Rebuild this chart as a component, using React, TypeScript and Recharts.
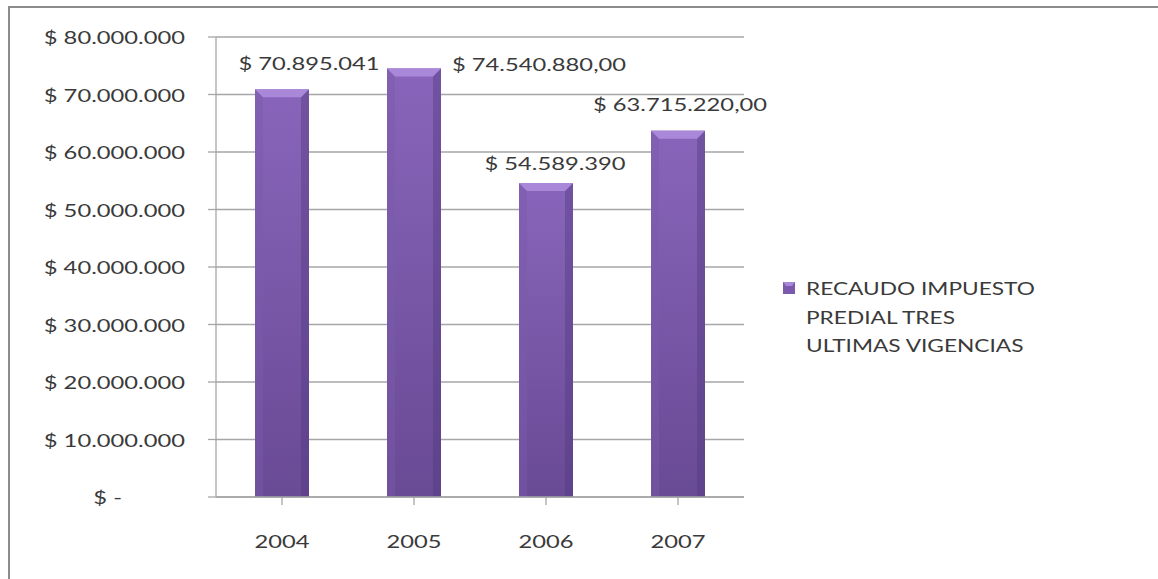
import { BarChart, Bar, XAxis, YAxis, CartesianGrid, Legend, LabelList } from "recharts";

const years = ["2004", "2005", "2006", "2007"];
const recaudo = [70895041, 74540880, 54589390, 63715220];
const labelDecimals = [0, 2, 0, 2];
const yTicks = [0, 10000000, 20000000, 30000000, 40000000, 50000000, 60000000, 70000000, 80000000];
const legendLines = ["RECAUDO IMPUESTO", "PREDIAL TRES", "ULTIMAS VIGENCIAS"];
const seriesName = legendLines.join(" ");

const data = years.map((year, i) => ({ year, value: recaudo[i], decimals: labelDecimals[i] }));

// where Excel dropped each data label, relative to bar centre / top
const labelNudge = [
  { dx: 27, dy: -19 },
  { dx: 125, dy: 3 },
  { dx: 9, dy: -13 },
  { dx: 2, dy: -20 },
];

const FONT = "Lato, 'Open Sans', sans-serif";
const STRETCH = 1.32;
const LEGEND_STRETCH = 1.26;
const TEXT = "#3a3a3a";
const GRID = "#a6a6a6";

function pesos(v: number, decimals = 0) {
  if (v === 0) return "$ -";
  const int = Math.floor(v).toString().replace(/\B(?=(\d{3})+(?!\d))/g, ".");
  return "$ " + int + (decimals > 0 ? "," + "0".repeat(decimals) : "");
}

function StretchText({ x, y, anchor, baseline, children, size = 18 }: any) {
  return (
    <g transform={`translate(${x},${y}) scale(${STRETCH},1)`}>
      <text x={0} y={0} textAnchor={anchor} dominantBaseline={baseline} fontFamily={FONT} fontSize={size} fill={TEXT}>
        {children}
      </text>
    </g>
  );
}

function YTick({ x, y, payload }: any) {
  const zero = payload.value === 0;
  return (
    <StretchText x={x - (zero ? 63 : 0)} y={y} anchor="end" baseline="central">
      {pesos(payload.value)}
    </StretchText>
  );
}

function XTick({ x, y, payload }: any) {
  return (
    <StretchText x={x} y={y + 6} anchor="middle" baseline="central">
      {payload.value}
    </StretchText>
  );
}

function BarLabel({ x, y, width, index, value }: any) {
  const n = labelNudge[index] || { dx: 0, dy: -8 };
  return (
    <StretchText x={x + width / 2 + n.dx} y={y + n.dy} anchor="middle" baseline="alphabetic">
      {pesos(value, labelDecimals[index])}
    </StretchText>
  );
}

function BevelBar({ x, y, width, height }: any) {
  if (!height || height <= 0) return null;
  const b = 8;
  return (
    <g>
      <rect x={x} y={y} width={width} height={height} fill="url(#barFace)" />
      <polygon points={`${x},${y} ${x + b},${y + b} ${x + b},${y + height} ${x},${y + height}`} fill="#7a5aab" opacity={0.45} />
      <polygon
        points={`${x + width},${y} ${x + width - b},${y + b} ${x + width - b},${y + height} ${x + width},${y + height}`}
        fill="#4f367c"
        opacity={0.4}
      />
      <polygon points={`${x},${y} ${x + width},${y} ${x + width - b},${y + b} ${x + b},${y + b}`} fill="#a988da" />
    </g>
  );
}

function LegendBox({ payload }: any) {
  const item = payload && payload[0];
  const lines = item && item.value === seriesName ? legendLines : [item ? item.value : seriesName];
  return (
    <div style={{ display: "flex", alignItems: "flex-start", fontFamily: FONT, fontSize: 18, color: TEXT }}>
      <svg width={12} height={12} style={{ marginTop: 7, flex: "none" }}>
        <rect x={0} y={0} width={12} height={12} fill="#7b5aad" />
        <polygon points="0,0 12,0 9,4 3,4" fill="#a988da" />
      </svg>
      <div
        style={{
          flex: "none",
          marginLeft: 11,
          lineHeight: "28.5px",
          transform: `scaleX(${LEGEND_STRETCH})`,
          transformOrigin: "left top",
          marginTop: -1,
        }}
      >
        {lines.map((l) => (
          <div key={l} style={{ whiteSpace: "nowrap" }}>
            {l}
          </div>
        ))}
      </div>
    </div>
  );
}

export default function App() {
  return (
    <div style={{ position: "absolute", left: 0, top: 0, width: 1158, height: 579, background: "#ffffff", overflow: "hidden" }}>
      <div
        style={{
          position: "absolute",
          left: 8,
          top: 6,
          width: 1200,
          height: 640,
          borderTop: "2px solid #8c8c8c",
          borderLeft: "2px solid #8c8c8c",
        }}
      />
      <div style={{ position: "absolute", left: 0, top: 0 }}>
        <BarChart width={1158} height={579} data={data} margin={{ top: 37, right: 414, bottom: 32, left: 16 }}>
          <defs>
            <linearGradient id="barFace" x1="0" y1="0" x2="0" y2="1">
              <stop offset="0%" stopColor="#8865ba" />
              <stop offset="100%" stopColor="#694a95" />
            </linearGradient>
          </defs>
          <CartesianGrid vertical={false} stroke={GRID} strokeWidth={1.3} />
          <XAxis
            dataKey="year"
            height={50}
            axisLine={{ stroke: GRID, strokeWidth: 1.3 }}
            tickLine={{ stroke: GRID, strokeWidth: 1.3 }}
            tickSize={8}
            tickMargin={30}
            tick={<XTick />}
            interval={0}
          />
          <YAxis
            width={200}
            domain={[0, 80000000]}
            ticks={yTicks}
            interval={0}
            axisLine={{ stroke: GRID, strokeWidth: 1.3 }}
            tickLine={{ stroke: GRID, strokeWidth: 1.3 }}
            tickSize={8}
            tickMargin={23}
            tick={<YTick />}
          />
          <Legend
            layout="vertical"
            align="center"
            verticalAlign="middle"
            wrapperStyle={{ left: 783, top: 275, width: 330 }}
            content={<LegendBox />}
          />
          <Bar dataKey="value" name={seriesName} barSize={54} shape={<BevelBar />} isAnimationActive={false}>
            <LabelList dataKey="value" content={<BarLabel />} />
          </Bar>
        </BarChart>
      </div>
    </div>
  );
}
